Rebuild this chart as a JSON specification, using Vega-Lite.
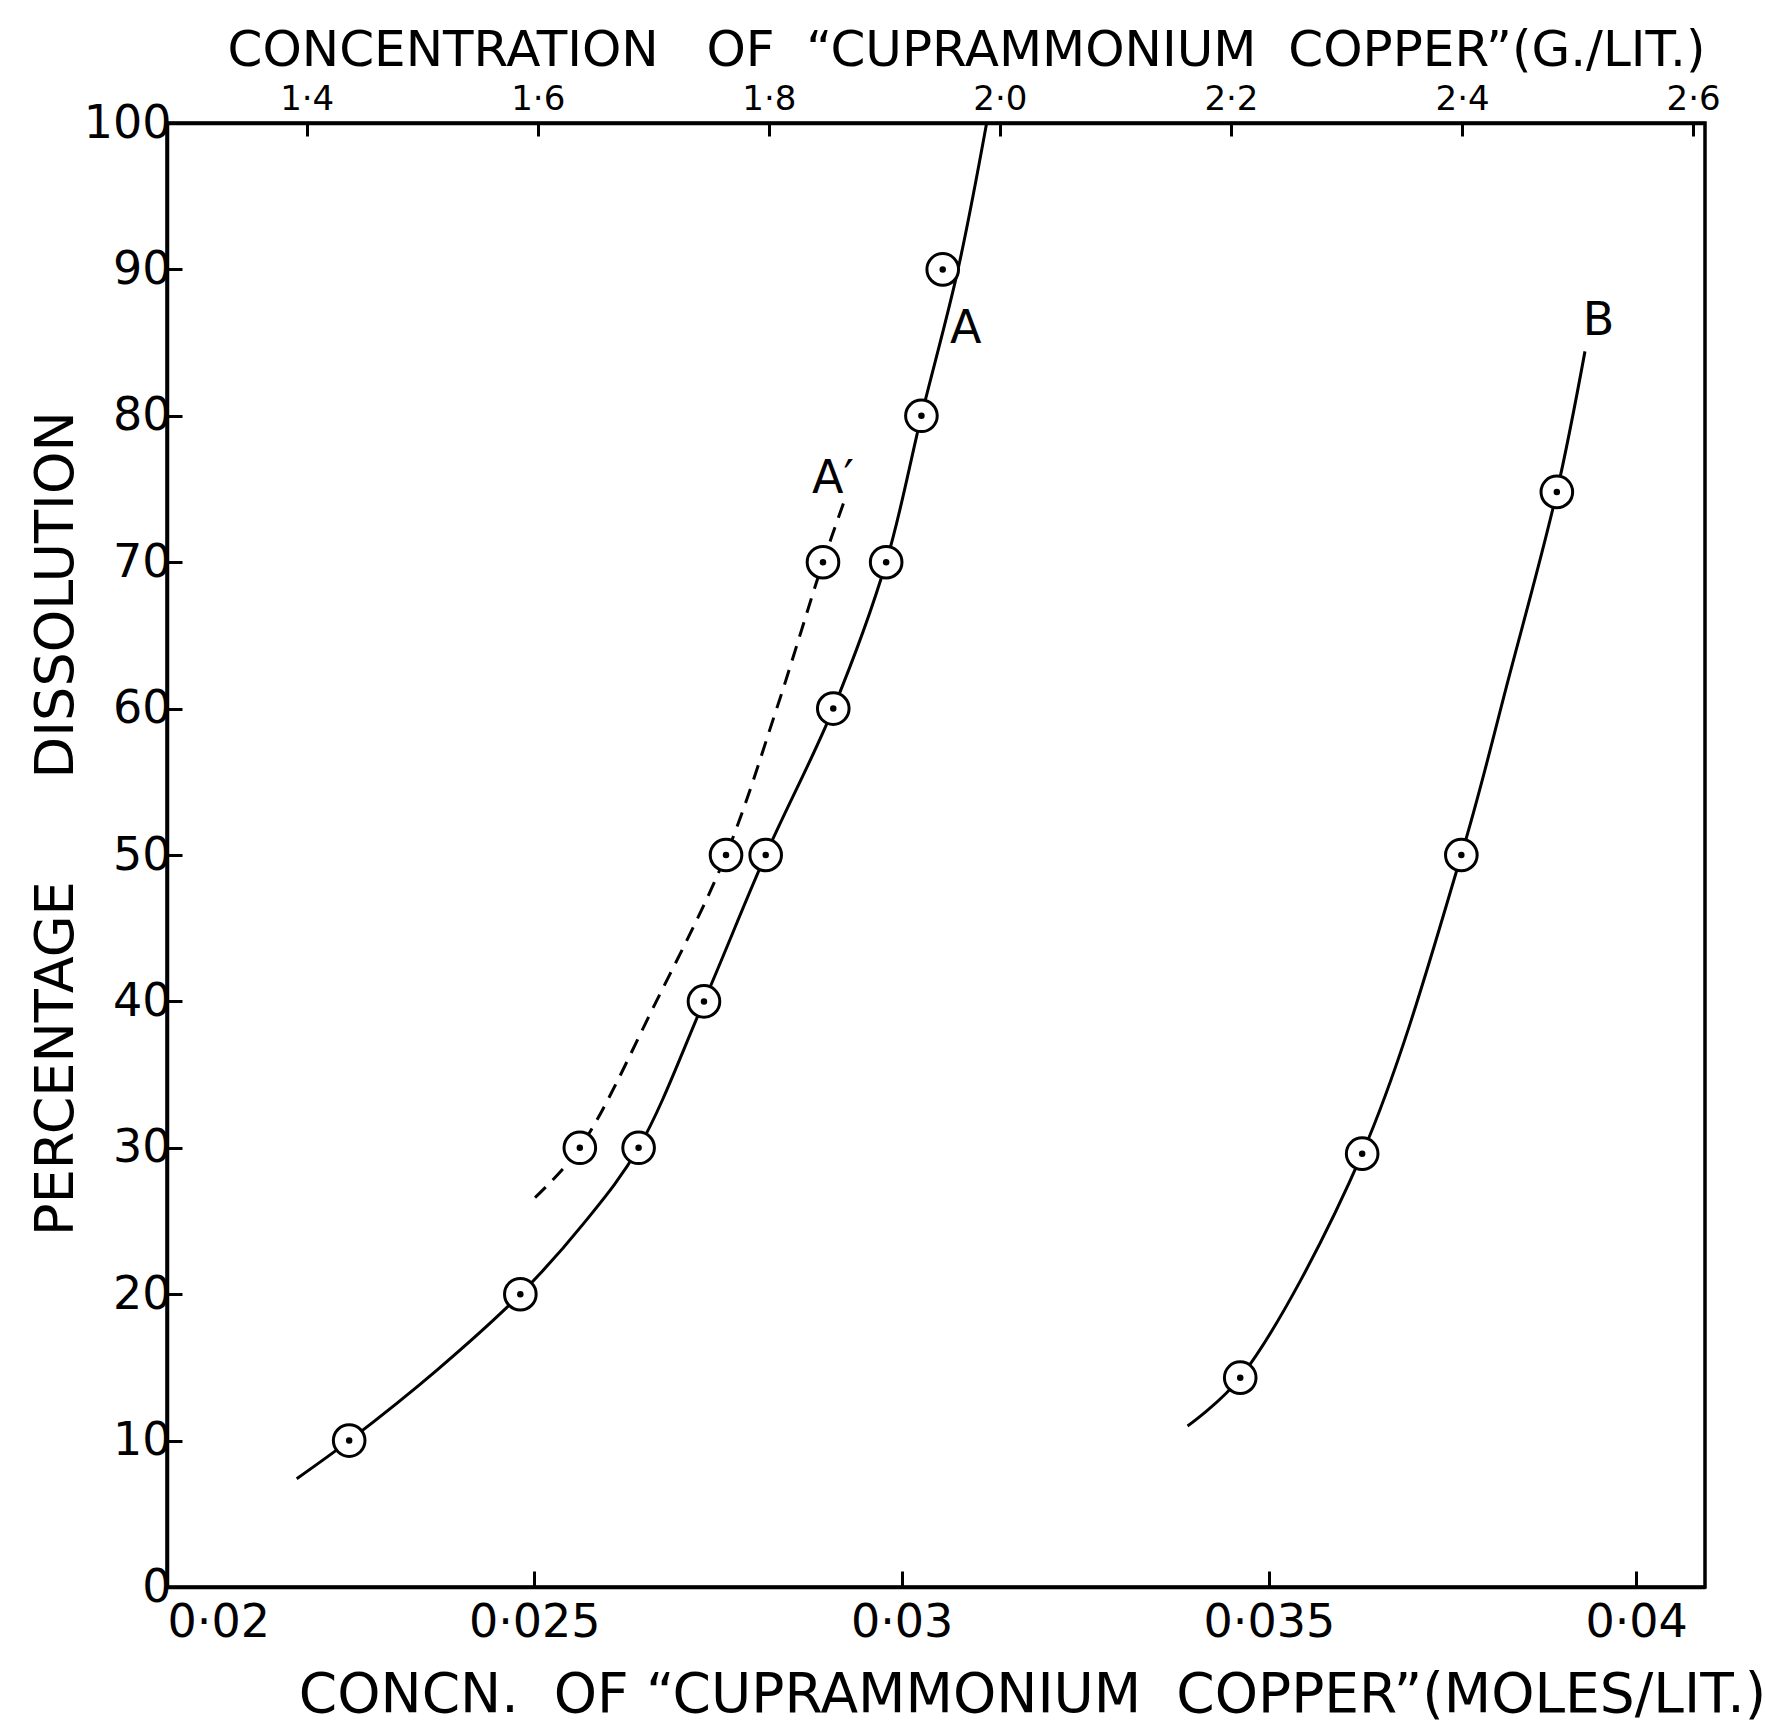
{
  "$schema": "https://vega.github.io/schema/vega-lite/v6.json",
  "width": 1538,
  "height": 1464,
  "autosize": "none",
  "padding": {"left": 167, "top": 123, "right": 60, "bottom": 139},
  "background": "white",
  "config": {
    "font": "DejaVu Sans",
    "view": {"stroke": "black", "strokeWidth": 3.5},
    "axis": {"grid": false, "domainColor": "black", "domainWidth": 3.5, "tickColor": "black", "tickWidth": 3, "labelColor": "black", "titleColor": "black", "labelFont": "DejaVu Sans", "titleFont": "DejaVu Sans", "titleFontWeight": "normal"}
  },
  "datasets": {
    "obs": [
      {"curve": "A", "conc": 0.02248, "pct": 10},
      {"curve": "A", "conc": 0.02481, "pct": 20},
      {"curve": "A", "conc": 0.02642, "pct": 30},
      {"curve": "A", "conc": 0.02731, "pct": 40},
      {"curve": "A", "conc": 0.02815, "pct": 50},
      {"curve": "A", "conc": 0.02907, "pct": 60},
      {"curve": "A", "conc": 0.02979, "pct": 70},
      {"curve": "A", "conc": 0.03027, "pct": 80},
      {"curve": "A", "conc": 0.03056, "pct": 90},
      {"curve": "A'", "conc": 0.02562, "pct": 30},
      {"curve": "A'", "conc": 0.02761, "pct": 50},
      {"curve": "A'", "conc": 0.02893, "pct": 70},
      {"curve": "B", "conc": 0.03461, "pct": 14.3},
      {"curve": "B", "conc": 0.03627, "pct": 29.6},
      {"curve": "B", "conc": 0.03762, "pct": 50},
      {"curve": "B", "conc": 0.03892, "pct": 74.8}
    ],
    "curves": [
      {"curve": "A", "conc": 0.021766, "pct": 7.4},
      {"curve": "A", "conc": 0.02248, "pct": 10},
      {"curve": "A", "conc": 0.023671, "pct": 14.8},
      {"curve": "A", "conc": 0.02481, "pct": 20},
      {"curve": "A", "conc": 0.025667, "pct": 24.8},
      {"curve": "A", "conc": 0.02642, "pct": 30},
      {"curve": "A", "conc": 0.02731, "pct": 40},
      {"curve": "A", "conc": 0.02815, "pct": 50},
      {"curve": "A", "conc": 0.02907, "pct": 60},
      {"curve": "A", "conc": 0.02979, "pct": 70},
      {"curve": "A", "conc": 0.03027, "pct": 80},
      {"curve": "A", "conc": 0.030768, "pct": 90},
      {"curve": "A", "conc": 0.031158, "pct": 100},
      {"curve": "A'", "conc": 0.02501, "pct": 26.6},
      {"curve": "A'", "conc": 0.02562, "pct": 30},
      {"curve": "A'", "conc": 0.026661, "pct": 40},
      {"curve": "A'", "conc": 0.02761, "pct": 50},
      {"curve": "A'", "conc": 0.0283, "pct": 60},
      {"curve": "A'", "conc": 0.02893, "pct": 70},
      {"curve": "A'", "conc": 0.02925, "pct": 74.6},
      {"curve": "B", "conc": 0.033893, "pct": 11},
      {"curve": "B", "conc": 0.03461, "pct": 14.3},
      {"curve": "B", "conc": 0.03627, "pct": 29.6},
      {"curve": "B", "conc": 0.03762, "pct": 50},
      {"curve": "B", "conc": 0.03826, "pct": 62},
      {"curve": "B", "conc": 0.03892, "pct": 74.8},
      {"curve": "B", "conc": 0.039303, "pct": 84.4}
    ],
    "labels": [
      {"label": "A", "conc": 0.030872, "pct": 85.96},
      {"label": "A′", "conc": 0.029066, "pct": 75.65},
      {"label": "B", "conc": 0.039487, "pct": 86.5}
    ],
    "topticks": [
      {"gl": 1.4}, {"gl": 1.6}, {"gl": 1.8}, {"gl": 2.0}, {"gl": 2.2}, {"gl": 2.4}, {"gl": 2.6}
    ]
  },
  "layer": [
    {
      "layer": [
        {
          "data": {"name": "curves"},
          "transform": [{"filter": "datum.curve != \"A'\""}],
          "mark": {"type": "line", "interpolate": "catmull-rom", "color": "black", "strokeWidth": 3},
          "encoding": {
            "x": {
              "field": "conc", "type": "quantitative",
              "scale": {"domain": [0.02, 0.040937], "nice": false, "zero": false},
              "axis": {
                "orient": "bottom",
                "values": [0.02, 0.025, 0.03, 0.035, 0.04],
                "labelExpr": "replace(format(datum.value, '.3~f'), '.', '·')",
                "labelFontSize": 46,
                "labelAlign": {"condition": {"test": "datum.value < 0.021", "value": "left"}, "value": "center"},
                "tickSize": -16,
                "labelPadding": 29,
                "title": "CONCN. \u00a0OF “CUPRAMMONIUM \u00a0COPPER”(MOLES/LIT.)",
                "titleFontSize": 55,
                "titleX": 865,
                "titleY": 124,
                "titleAlign": "center",
                "titleBaseline": "alphabetic"
              }
            },
            "y": {
              "field": "pct", "type": "quantitative",
              "scale": {"domain": [0, 100], "nice": false},
              "axis": {
                "values": [0, 10, 20, 30, 40, 50, 60, 70, 80, 90, 100],
                "labelFontSize": 46,
                "tickSize": -15,
                "labelPadding": 11,
                "title": "PERCENTAGE \u00a0\u00a0\u00a0\u00a0\u00a0DISSOLUTION",
                "titleFontSize": 54,
                "titleX": -95,
                "titleY": 700,
                "titleAngle": -90,
                "titleAlign": "center",
                "titleBaseline": "alphabetic"
              }
            },
            "detail": {"field": "curve"}
          }
        },
        {
          "data": {"name": "curves"},
          "transform": [{"filter": "datum.curve == \"A'\""}],
          "mark": {"type": "line", "interpolate": "catmull-rom", "color": "black", "strokeWidth": 3, "strokeDash": [15, 10]},
          "encoding": {
            "x": {"field": "conc", "type": "quantitative"},
            "y": {"field": "pct", "type": "quantitative"}
          }
        },
        {
          "data": {"name": "obs"},
          "mark": {"type": "point", "shape": "circle", "filled": false, "fill": "white", "fillOpacity": 1, "stroke": "black", "strokeWidth": 3, "size": 1000, "opacity": 1},
          "encoding": {
            "x": {"field": "conc", "type": "quantitative"},
            "y": {"field": "pct", "type": "quantitative"}
          }
        },
        {
          "data": {"name": "obs"},
          "mark": {"type": "point", "shape": "circle", "filled": true, "color": "black", "size": 42, "opacity": 1},
          "encoding": {
            "x": {"field": "conc", "type": "quantitative"},
            "y": {"field": "pct", "type": "quantitative"}
          }
        },
        {
          "data": {"name": "labels"},
          "mark": {"type": "text", "font": "DejaVu Sans", "fontSize": 46, "color": "black", "align": "center", "baseline": "middle"},
          "encoding": {
            "x": {"field": "conc", "type": "quantitative"},
            "y": {"field": "pct", "type": "quantitative"},
            "text": {"field": "label"}
          }
        }
      ]
    },
    {
      "data": {"name": "topticks"},
      "mark": {"type": "point", "opacity": 0},
      "encoding": {
        "x": {
          "field": "gl", "type": "quantitative",
          "scale": {"domain": [1.2791, 2.6103], "nice": false, "zero": false},
          "axis": {
            "orient": "top",
            "values": [1.4, 1.6, 1.8, 2.0, 2.2, 2.4, 2.6],
            "labelExpr": "replace(format(datum.value, '.1f'), '.', '·')",
            "labelFontSize": 34,
            "tickSize": -13,
            "labelPadding": 20,
            "domain": true,
            "title": "CONCENTRATION \u00a0\u00a0OF \u00a0“CUPRAMMONIUM \u00a0COPPER”(G./LIT.)",
            "titleFontSize": 50,
            "titleX": 799,
            "titleY": -58,
            "titleAlign": "center",
            "titleBaseline": "alphabetic"
          }
        }
      }
    }
  ],
  "resolve": {"scale": {"x": "independent"}}
}
